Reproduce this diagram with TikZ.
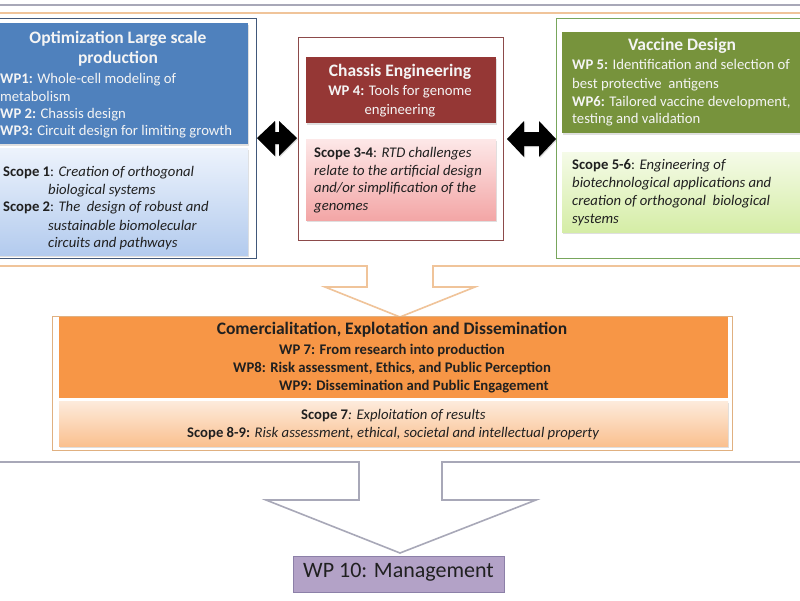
\documentclass[tikz,border=0pt]{standalone}
\usepackage{fontspec}
\setmainfont{Carlito}
\usetikzlibrary{shadows}
\definecolor{bluehdr}{HTML}{4F81BD}
\definecolor{blueframe}{HTML}{41587A}
\definecolor{bluetop}{HTML}{EDF3FC}
\definecolor{bluebot}{HTML}{B3CBEE}
\definecolor{redhdr}{HTML}{953735}
\definecolor{redframe}{HTML}{8C4A4A}
\definecolor{pinktop}{HTML}{FDE8E8}
\definecolor{pinkbot}{HTML}{F3A6A6}
\definecolor{greenhdr}{HTML}{77933C}
\definecolor{greenframe}{HTML}{78A65C}
\definecolor{greentop}{HTML}{F5FBE8}
\definecolor{greenbot}{HTML}{D5EDA6}
\definecolor{orangehdr}{HTML}{F79646}
\definecolor{orangeframe}{HTML}{E0B080}
\definecolor{peachtop}{HTML}{FDEBDC}
\definecolor{peachbot}{HTML}{FAC08F}
\definecolor{outerorange}{HTML}{F0C49A}
\definecolor{outergray}{HTML}{A8A8B8}
\definecolor{purplefill}{HTML}{B3A2C7}
\definecolor{purpleframe}{HTML}{8C80A8}
\definecolor{hdrtext}{HTML}{F4F4F4}
\definecolor{darktext}{HTML}{202020}
\tikzset{
  x=1pt, y=-1pt,
  box/.style={draw=none, inner sep=0pt, outer sep=0pt, anchor=north west},
  frame/.style={inner sep=0pt, outer sep=0pt, anchor=north west, fill=white, line width=0.9pt},
  shad/.style={drop shadow={shadow xshift=1pt, shadow yshift=-1.5pt, opacity=0.25}},
  body/.style={inner sep=0pt, yshift=-2.5pt, font=\fontsize{14.7}{17}\selectfont},
  boldbody/.style={inner sep=0pt, yshift=-2.5pt, font=\fontsize{14.7}{17}\selectfont\bfseries},
  head/.style={inner sep=0pt, yshift=-2.5pt, font=\fontsize{17.5}{20}\selectfont\bfseries},
  wtxt/.style={body, text=hdrtext},
  whead/.style={head, text=hdrtext},
  dtxt/.style={body, text=darktext},
  dbold/.style={boldbody, text=darktext},
  blockarrow/.style={fill=black, draw=none, drop shadow={shadow xshift=1pt, shadow yshift=-1pt, opacity=0.3}},
}
\begin{document}
\begin{tikzpicture}
\useasboundingbox (0,0) rectangle (800,600);
\clip (0,0) rectangle (800,600);
\fill[white] (0,0) rectangle (800,600);

% outer gray frame with hollow arrow
\draw[outergray, line width=1.6pt, fill=white]
  (-10,5) -- (810,5) -- (810,462) -- (442,462) -- (442,500) -- (536,500)
  -- (400,553) -- (266,500) -- (359,500) -- (359,462) -- (-10,462) -- cycle;
% outer orange frame with hollow arrow
\draw[outerorange, line width=1.6pt, fill=white]
  (-10,13) -- (810,13) -- (810,266) -- (433,266) -- (433,287) -- (475,287)
  -- (400,317) -- (325,287) -- (367,287) -- (367,266) -- (-10,266) -- cycle;

% ---------- left block ----------
\node[frame, draw=blueframe, minimum width=266, minimum height=240] (bframe) at (-10,18) {};
\node[box, fill=bluehdr, shad, minimum width=258, minimum height=121] (bhdr) at (-10,23) {};
\node[box, top color=bluetop, bottom color=bluebot, shad, minimum width=258, minimum height=107] (bscope) at (-10,148) {};
\node[whead, anchor=mid] (b1) at (118,39) {Optimization Large scale};
\node[whead, anchor=mid] (b2) at (118,59) {production};
\node[wtxt, anchor=mid west] (b3) at (0,79) {\textbf{WP1:} Whole-cell modeling of};
\node[wtxt, anchor=mid west] (b4) at (0,97) {metabolism};
\node[wtxt, anchor=mid west] (b5) at (0,114) {\textbf{WP 2:} Chassis design};
\node[wtxt, anchor=mid west] (b6) at (0,131) {\textbf{WP3:} Circuit design for limiting growth};
\node[dtxt, anchor=mid west] (b7) at (3,172) {\textbf{Scope 1}: \textit{Creation of orthogonal}};
\node[dtxt, anchor=mid west] (b8) at (48,190) {\textit{biological systems}};
\node[dtxt, anchor=mid west] (b9) at (3,207) {\textbf{Scope 2}: \textit{The\ \ design of robust and}};
\node[dtxt, anchor=mid west] (b10) at (48,226) {\textit{sustainable biomolecular}};
\node[dtxt, anchor=mid west] (b11) at (48,243) {\textit{circuits and pathways}};

% ---------- middle (chassis) block ----------
\node[frame, draw=redframe, minimum width=205, minimum height=203] (rframe) at (298,37) {};
\node[box, fill=redhdr, shad, minimum width=190, minimum height=66] (rhdr) at (306,57) {};
\node[box, top color=pinktop, bottom color=pinkbot, shad, minimum width=190, minimum height=81] (rscope) at (306,139) {};
\node[whead, anchor=mid] (r1) at (400,72) {Chassis Engineering};
\node[wtxt, anchor=mid] (r2) at (400,91) {\textbf{WP 4:} Tools for genome};
\node[wtxt, anchor=mid] (r3) at (400,110) {engineering};
\node[dtxt, anchor=mid west] (r4) at (314,153) {\textbf{Scope 3-4}: \textit{RTD challenges}};
\node[dtxt, anchor=mid west] (r5) at (314,171) {\textit{relate to the artificial design}};
\node[dtxt, anchor=mid west] (r6) at (314,188) {\textit{and/or simplification of the}};
\node[dtxt, anchor=mid west] (r7) at (314,206) {\textit{genomes}};

% ---------- right (vaccine) block ----------
\node[frame, draw=greenframe, minimum width=260, minimum height=240] (gframe) at (556,18) {};
\node[box, fill=greenhdr, shad, minimum width=250, minimum height=101] (ghdr) at (562,32) {};
\node[box, top color=greentop, bottom color=greenbot, shad, minimum width=250, minimum height=80] (gscope) at (562,152) {};
\node[whead, anchor=mid] (g1) at (682,46) {Vaccine Design};
\node[wtxt, anchor=mid west] (g2) at (572,65) {\textbf{WP 5:} Identification and selection of};
\node[wtxt, anchor=mid west] (g3) at (572,84) {best protective\ \ antigens};
\node[wtxt, anchor=mid west] (g4) at (572,102) {\textbf{WP6:} Tailored vaccine development,};
\node[wtxt, anchor=mid west] (g5) at (572,119) {testing and validation};
\node[dtxt, anchor=mid west] (g6) at (572,165) {\textbf{Scope 5-6}: \textit{Engineering of}};
\node[dtxt, anchor=mid west] (g7) at (572,183) {\textit{biotechnological applications and}};
\node[dtxt, anchor=mid west] (g8) at (572,201) {\textit{creation of orthogonal\ \ biological}};
\node[dtxt, anchor=mid west] (g9) at (572,219) {\textit{systems}};

% ---------- double arrows ----------
\fill[blockarrow] (257,138) -- (275,121) -- (275,132) -- (279,132) -- (279,121) -- (297,138)
  -- (279,156) -- (279,144) -- (275,144) -- (275,156) -- cycle;
\fill[blockarrow] (507,139) -- (524,121) -- (524,132) -- (539,132) -- (539,121) -- (556,139)
  -- (539,157) -- (539,146) -- (524,146) -- (524,157) -- cycle;

% ---------- commercialisation block ----------
\node[frame, draw=orangeframe, minimum width=680, minimum height=134] (oframe) at (52,316) {};
\node[box, fill=orangehdr, minimum width=669, minimum height=81] (ohdr) at (59,317) {};
\node[box, top color=peachtop, bottom color=peachbot, shad, minimum width=669, minimum height=45] (oscope) at (59,401) {};
\node[head, text=darktext, anchor=mid] (o1) at (392,330) {Comercialitation, Explotation and Dissemination};
\node[dbold, anchor=mid west] (o2) at (279,350) {WP 7: From research into production};
\node[dbold, anchor=mid west] (o3) at (233,368) {WP8: Risk assessment, Ethics, and Public Perception};
\node[dbold, anchor=mid west] (o4) at (279,386) {WP9: Dissemination and Public Engagement};
\node[dtxt, anchor=mid west] (o5) at (301,415) {\textbf{Scope 7}\textit{: Exploitation of results}};
\node[dtxt, anchor=mid west] (o6) at (187,433) {\textbf{Scope 8-9:} \textit{Risk assessment, ethical, societal and intellectual property}};

% ---------- management ----------
\node[box, fill=purplefill, draw=purpleframe, line width=0.9pt, minimum width=211, minimum height=36] (mgmt) at (293,556) {};
\node[inner sep=0pt, yshift=-1.5pt, text=darktext, font=\fontsize{22}{26}\selectfont, anchor=mid] (m1) at (mgmt.center) {WP 10: Management};
\end{tikzpicture}
\end{document}
